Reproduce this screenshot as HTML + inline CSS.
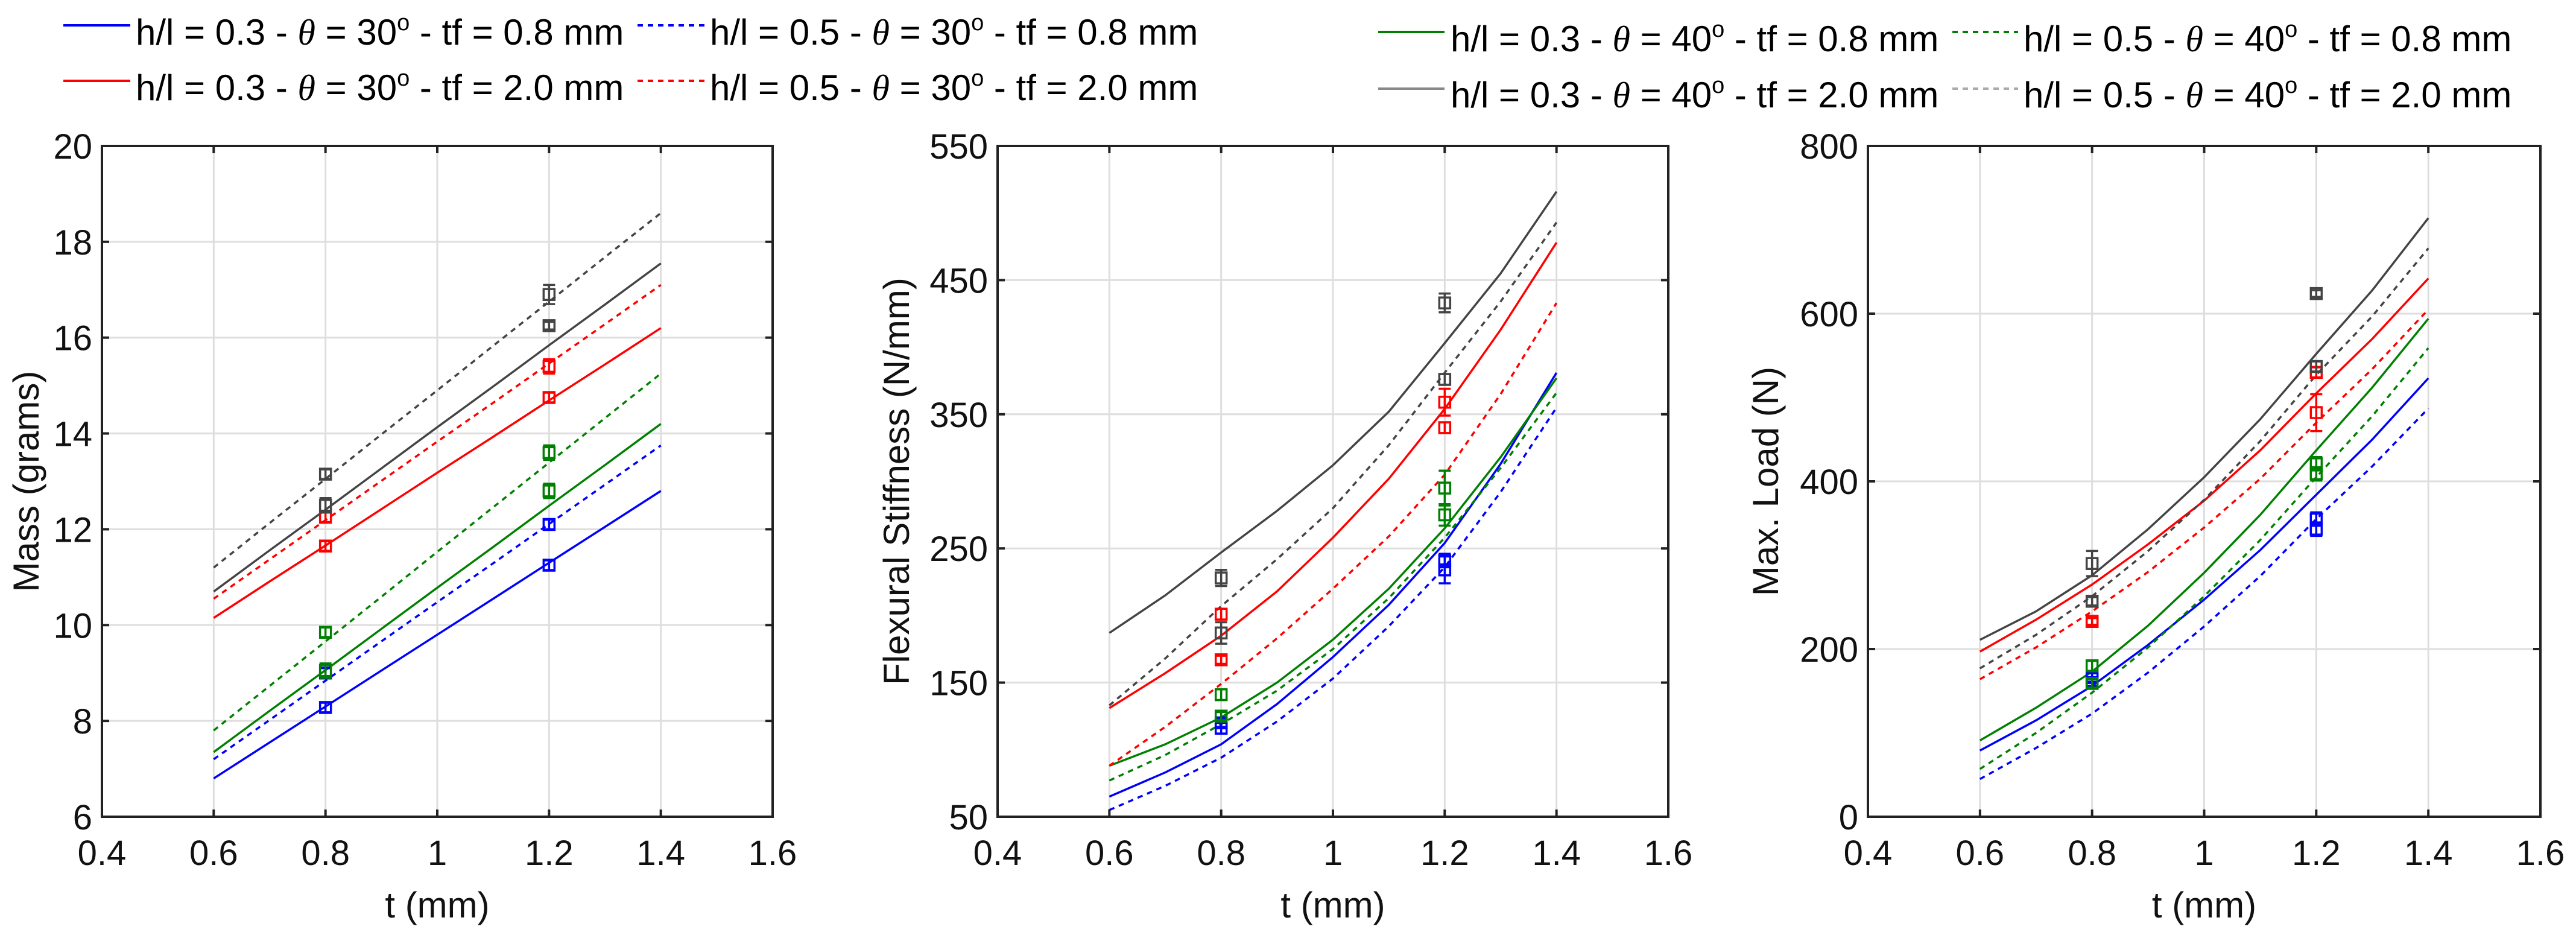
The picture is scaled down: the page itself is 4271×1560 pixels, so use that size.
<!DOCTYPE html>
<html><head><meta charset="utf-8"><style>
html,body{margin:0;padding:0;background:#fff;}
svg{display:block;font-family:"Liberation Sans",Arial,sans-serif;}
</style></head><body>
<svg id="fig" width="4271" height="1560" viewBox="0 0 4271 1560" xmlns="http://www.w3.org/2000/svg">
<rect width="4271" height="1560" fill="#fff"/>
<g id="legend" font-size="60" fill="#000">
  <g><line x1="105" y1="42" x2="216" y2="42" stroke="#0000ff" stroke-width="4"/><text x="225" y="74">h/l = 0.3 - <tspan font-style="italic" font-family="Liberation Serif">θ</tspan> = 30<tspan dy="-24" font-size="38">o</tspan><tspan dy="24"> - tf = 0.8 mm</tspan></text></g>
  <g><line x1="1057" y1="42" x2="1168" y2="42" stroke="#0000ff" stroke-width="4" stroke-dasharray="9 8"/><text x="1177" y="74">h/l = 0.5 - <tspan font-style="italic" font-family="Liberation Serif">θ</tspan> = 30<tspan dy="-24" font-size="38">o</tspan><tspan dy="24"> - tf = 0.8 mm</tspan></text></g>
  <g><line x1="105" y1="134" x2="216" y2="134" stroke="#ff0000" stroke-width="4"/><text x="225" y="166">h/l = 0.3 - <tspan font-style="italic" font-family="Liberation Serif">θ</tspan> = 30<tspan dy="-24" font-size="38">o</tspan><tspan dy="24"> - tf = 2.0 mm</tspan></text></g>
  <g><line x1="1057" y1="134" x2="1168" y2="134" stroke="#ff0000" stroke-width="4" stroke-dasharray="9 8"/><text x="1177" y="166">h/l = 0.5 - <tspan font-style="italic" font-family="Liberation Serif">θ</tspan> = 30<tspan dy="-24" font-size="38">o</tspan><tspan dy="24"> - tf = 2.0 mm</tspan></text></g>
  <g><line x1="2285" y1="53" x2="2395" y2="53" stroke="#008000" stroke-width="4"/><text x="2405" y="85">h/l = 0.3 - <tspan font-style="italic" font-family="Liberation Serif">θ</tspan> = 40<tspan dy="-24" font-size="38">o</tspan><tspan dy="24"> - tf = 0.8 mm</tspan></text></g>
  <g><line x1="3237" y1="53" x2="3346" y2="53" stroke="#008000" stroke-width="4" stroke-dasharray="9 8"/><text x="3355" y="85">h/l = 0.5 - <tspan font-style="italic" font-family="Liberation Serif">θ</tspan> = 40<tspan dy="-24" font-size="38">o</tspan><tspan dy="24"> - tf = 0.8 mm</tspan></text></g>
  <g><line x1="2285" y1="147" x2="2395" y2="147" stroke="#888" stroke-width="4"/><text x="2405" y="178">h/l = 0.3 - <tspan font-style="italic" font-family="Liberation Serif">θ</tspan> = 40<tspan dy="-24" font-size="38">o</tspan><tspan dy="24"> - tf = 2.0 mm</tspan></text></g>
  <g><line x1="3237" y1="147" x2="3346" y2="147" stroke="#aaa" stroke-width="4" stroke-dasharray="9 8"/><text x="3355" y="178">h/l = 0.5 - <tspan font-style="italic" font-family="Liberation Serif">θ</tspan> = 40<tspan dy="-24" font-size="38">o</tspan><tspan dy="24"> - tf = 2.0 mm</tspan></text></g>
</g>
</svg>
<script>
// shared x data
const xCurve = [0.6,0.7,0.8,0.9,1.0,1.1,1.2,1.3,1.4];
const xPts = [0.8,1.2];
const xTicks = [0.4,0.6,0.8,1.0,1.2,1.4,1.6];
const xTickLabels = ["0.4","0.6","0.8","1","1.2","1.4","1.6"];
const seriesColors = ["#0000ff","#0000ff","#008000","#008000","#ff0000","#ff0000","#444444","#444444"];
const seriesDashed = [false,true,false,true,false,true,false,true];
const seriesNames = ["blue-solid","blue-dashed","green-solid","green-dashed","red-solid","red-dashed","gray-solid","gray-dashed"];

// Mass (grams)
const massTicks = [6,8,10,12,14,16,18,20];
const massBlueS = [6.8,7.55,8.3,9.05,9.8,10.55,11.3,12.05,12.8];
const massBlueD = [7.2,8.02,8.84,9.66,10.48,11.29,12.11,12.93,13.75];
const massGreenS = [7.35,8.21,9.06,9.92,10.78,11.63,12.49,13.34,14.2];
const massGreenD = [7.8,8.73,9.66,10.59,11.53,12.46,13.39,14.32,15.25];
const massRedS = [10.15,10.91,11.66,12.42,13.18,13.93,14.69,15.44,16.2];
const massRedD = [10.55,11.37,12.19,13.01,13.83,14.64,15.46,16.28,17.1];
const massGrayS = [10.7,11.56,12.41,13.27,14.13,14.98,15.84,16.69,17.55];
const massGrayD = [11.2,12.13,13.05,13.98,14.9,15.83,16.75,17.68,18.6];
const massPts = [[8.28,11.25],[9.0,12.1],[9.05,12.8],[9.85,13.6],[11.65,14.75],[12.25,15.4],[12.5,16.25],[13.15,16.9]];
const massErr = [[0.1,0.1],[0.1,0.1],[0.15,0.15],[0.1,0.15],[0.1,0.1],[0.1,0.15],[0.15,0.08],[0.1,0.2]];

// Flexural stiffness (N/mm)
const stiffTicks = [50,150,250,350,450,550];
const stiffBlueS = [65,83,104,134,169,208,254,313,381];
const stiffBlueD = [55,73,94,121,153,192,236,292,355];
const stiffGreenS = [88,104,124,150,182,220,265,318,377];
const stiffGreenD = [77,96,119,144,175,213,258,310,366];
const stiffRedS = [131,157,185,218,258,302,354,413,478];
const stiffRedD = [88,117,149,183,220,259,305,365,433];
const stiffGrayS = [187,215,247,278,312,352,403,455,516];
const stiffGrayD = [133,168,207,242,280,327,381,434,493];
const stiffPts = [[116,241],[120,234],[125,275],[141,295],[201,359],[167,340],[187,376],[228,433]];
const stiffErr = [[4,5],[3,10],[3,8],[4,13],[4,10],[3,4],[8,4],[6,7]];

// Max load (N)
const loadTicks = [0,200,400,600,800];
const loadBlueS = [79,115,156,205,259,318,384,450,523];
const loadBlueD = [45,82,123,172,227,287,355,418,487];
const loadGreenS = [91,130,173,228,291,360,437,512,594];
const loadGreenD = [57,100,148,202,263,330,405,478,559];
const loadRedS = [197,235,277,325,377,437,505,570,642];
const loadRedD = [164,202,245,292,345,403,470,534,605];
const loadGrayS = [211,245,288,343,405,474,552,628,714];
const loadGrayD = [177,217,263,317,378,448,527,597,678];
const loadPts = [[166,355],[160,343],[180,421],[159,409],[233,530],[233,482],[302,537],[257,624]];
const loadErr = [[5,8],[4,8],[6,8],[5,8],[4,6],[4,22],[15,6],[5,4]];

const panels = [
  {name:"mass", left:169, right:1281, ymin:6, ymax:20, ticks:massTicks, title:"Mass (grams)", titleX:43,
   curves:[massBlueS,massBlueD,massGreenS,massGreenD,massRedS,massRedD,massGrayS,massGrayD], pts:massPts, err:massErr},
  {name:"stiffness", left:1654, right:2766, ymin:50, ymax:550, ticks:stiffTicks, title:"Flexural Stiffness (N/mm)", titleX:1486,
   curves:[stiffBlueS,stiffBlueD,stiffGreenS,stiffGreenD,stiffRedS,stiffRedD,stiffGrayS,stiffGrayD], pts:stiffPts, err:stiffErr},
  {name:"load", left:3097, right:4212, ymin:0, ymax:800, ticks:loadTicks, title:"Max. Load (N)", titleX:2927,
   curves:[loadBlueS,loadBlueD,loadGreenS,loadGreenD,loadRedS,loadRedD,loadGrayS,loadGrayD], pts:loadPts, err:loadErr}
];
const TOP = 242, BOTTOM = 1354;
const NS = "http://www.w3.org/2000/svg";
const svg = document.getElementById('fig');
function mk(tag, attrs, parent){const e=document.createElementNS(NS,tag);for(const k in attrs)e.setAttribute(k,attrs[k]);parent.appendChild(e);return e;}

panels.forEach(p=>{
  const g = mk('g',{},svg);
  
  
  const sx = v => p.left + (v-0.4)/(1.6-0.4)*(p.right-p.left);
  const sy = v => BOTTOM - (v-p.ymin)/(p.ymax-p.ymin)*(BOTTOM-TOP);
  // grid
  const grid = mk('g',{stroke:"#dedede","stroke-width":3},g);
  
  
  xTicks.forEach(t=>mk('line',{x1:sx(t),x2:sx(t),y1:TOP,y2:BOTTOM},grid));
  p.ticks.forEach(t=>mk('line',{x1:p.left,x2:p.right,y1:sy(t),y2:sy(t)},grid));
  // curves
  p.curves.forEach((c,i)=>{
    const d = c.map((v,j)=>(j?'L':'M')+sx(xCurve[j]).toFixed(1)+' '+sy(v).toFixed(1)).join(' ');
    const path = mk('path',{d:d,fill:"none",stroke:seriesColors[i],"stroke-width":3.5},g);
    if(seriesDashed[i]) path.setAttribute('stroke-dasharray','9 8');
    
    
  });
  // points with error bars
  p.pts.forEach((arr,i)=>{
    arr.forEach((v,j)=>{
      const pg = mk('g',{stroke:seriesColors[i],"stroke-width":3.5,fill:"none"},g);
      
      
      const x = sx(xPts[j]), y = sy(v), e = p.err[i][j];
      const y1 = sy(v+e), y2 = sy(v-e);
      mk('line',{x1:x,x2:x,y1:y1,y2:y2},pg);
      mk('line',{x1:x-10,x2:x+10,y1:y1,y2:y1},pg);
      mk('line',{x1:x-10,x2:x+10,y1:y2,y2:y2},pg);
      mk('rect',{x:x-9,y:y-9,width:18,height:18},pg);
    });
  });
  // frame and ticks
  const ax = mk('g',{stroke:"#222","stroke-width":4,fill:"none"},g);
  
  
  mk('rect',{x:p.left,y:TOP,width:p.right-p.left,height:BOTTOM-TOP},ax);
  xTicks.forEach(t=>{mk('line',{x1:sx(t),x2:sx(t),y1:BOTTOM,y2:BOTTOM-12},ax);mk('line',{x1:sx(t),x2:sx(t),y1:TOP,y2:TOP+12},ax);});
  p.ticks.forEach(t=>{mk('line',{x1:p.left,x2:p.left+12,y1:sy(t),y2:sy(t)},ax);mk('line',{x1:p.right,x2:p.right-12,y1:sy(t),y2:sy(t)},ax);});
  // tick labels
  xTicks.forEach((t,i)=>{
    const tx = mk('text',{x:sx(t),y:1434,"font-size":58,"text-anchor":"middle",fill:"#111"},g);
    tx.textContent = xTickLabels[i];
    
    
  });
  p.ticks.forEach(t=>{
    const ty = mk('text',{x:p.left-16,y:sy(t)+21,"font-size":58,"text-anchor":"end",fill:"#111"},g);
    ty.textContent = String(t);
    
    
  });
  const xt = mk('text',{x:(p.left+p.right)/2,y:1521,"font-size":60,"text-anchor":"middle",fill:"#111"},g);
  xt.textContent = "t (mm)";
  
  
  const cy = (TOP+BOTTOM)/2;
  const yt = mk('text',{x:p.titleX,y:cy,"font-size":60,"text-anchor":"middle",fill:"#111",transform:`rotate(-90 ${p.titleX} ${cy}) translate(0 21)`},g);
  yt.textContent = p.title;
  
  
});
</script>
</body></html>
